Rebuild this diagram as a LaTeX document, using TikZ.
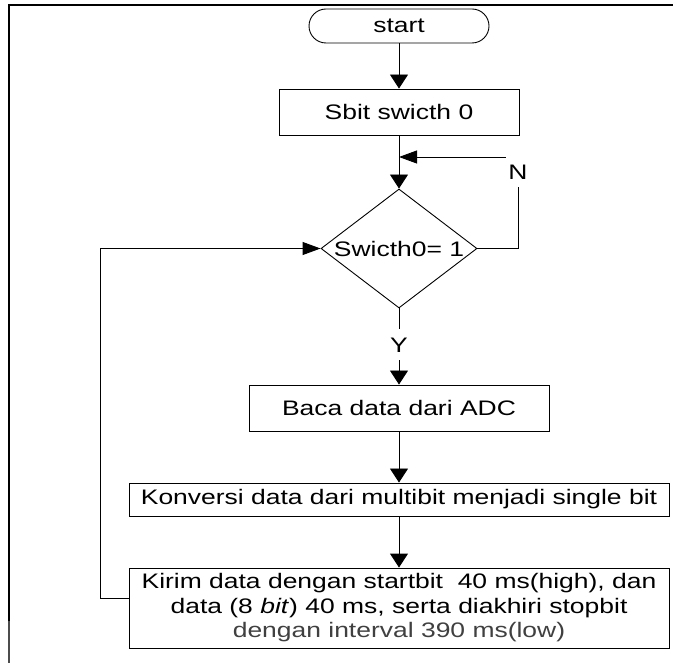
\documentclass[tikz,border=0pt]{standalone}
\usepackage{fontspec}
\setmainfont{Liberation Sans}[FakeStretch=1.26]
\usetikzlibrary{arrows.meta,shapes.geometric}

\tikzset{
  base/.style={font=\fontsize{21}{24.5}\selectfont, text=black},
  stepbox/.style={base, draw, line width=0.9pt, inner sep=0pt, align=center},
  term/.style={stepbox, rounded corners=17pt},
  decide/.style={base, draw, line width=0.9pt, shape=diamond, aspect=1.31, inner sep=0pt},
  link/.style={line width=0.9pt},
  varr/.style={link, -{Triangle[length=14pt,width=18pt]}},
  harr/.style={link, -{Triangle[length=18pt,width=13pt]}},
  lbl/.style={base, fill=white, inner sep=0pt},
}

\begin{document}
\begin{tikzpicture}[x=1pt, y=-1pt]
  \useasboundingbox (0,0) rectangle (673,663);

  % page frame (top and left edges)
  \draw[line width=2.2pt] (673,5) -- (9,5) -- (9,622);
  \draw[line width=2.2pt, black!70] (9,621) -- (9,663);

  % flow steps
  \node[term, minimum width=180pt, minimum height=34pt] (start) at (399,26) {start};
  \node[stepbox, minimum width=240pt, minimum height=46pt] (sbit) at (399,112) {Sbit swicth 0};
  \node[decide, minimum width=156pt, minimum height=119pt] (dec) at (399,248.5) {Swicth0= 1};
  \node[stepbox, minimum width=300pt, minimum height=46pt] (baca) at (399,408) {Baca data dari ADC};
  \node[stepbox, minimum width=540pt, minimum height=33pt] (konv) at (399,499.5)
    {Konversi data dari multibit menjadi single bit};
  \node[stepbox, minimum width=540pt, minimum height=80pt] (kirim) at (399,608)
    {Kirim data dengan startbit~ 40 ms(high), dan\\
     data (8 \textit{bit}) 40 ms, serta diakhiri stopbit\\
     \textcolor{black!75}{dengan interval 390 ms(low)}};

  % main connectors
  \draw[varr] (start) -- (sbit);
  \draw[varr] (sbit) -- (dec);
  \draw[varr] (dec) -- (baca);
  \draw[varr] (baca) -- (konv);
  \draw[varr] (konv) -- (kirim);

  % "N" branch back above the decision
  \coordinate (merge) at (399,157);
  \coordinate (ncorner) at (518,157);
  \draw[harr] (dec.east) -| (ncorner) -- (merge);
  \node[lbl, minimum width=24pt, minimum height=30pt] (nlabel) at (518,172) {N};

  % "Y" label on the downward branch
  \node[lbl, minimum width=20pt, minimum height=31pt] (ylabel) at (399,345) {Y};

  % loop from the last step back to the decision
  \coordinate (looptop) at (100,248.5);
  \draw[harr] ([yshift=10pt]kirim.west) -| (looptop) -- (dec.west);
\end{tikzpicture}
\end{document}
